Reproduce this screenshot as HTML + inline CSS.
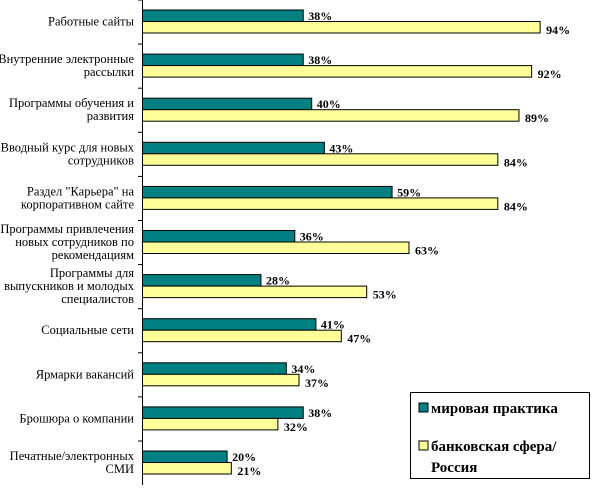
<!DOCTYPE html>
<html><head><meta charset="utf-8"><style>
body{margin:0;background:#fff;}
svg text{font-family:"Liberation Serif","DejaVu Serif",serif;}
</style></head><body>
<div id="w"></div>
<script>
var d=[["Работные сайты",38,94],["Внутренние электронные|рассылки",38,92],["Программы обучения и|развития",40,89],["Вводный курс для новых|сотрудников",43,84],["Раздел &quot;Карьера&quot; на|корпоративном сайте",59,84],["Программы привлечения|новых сотрудников по|рекомендациям",36,63],["Программы для|выпускников и молодых|специалистов",28,53],["Социальные сети",41,47],["Ярмарки вакансий",34,37],["Брошюра о компании",38,32],["Печатные/электронных|СМИ",20,21]];
var s='<svg width="600" height="485" xmlns="http://www.w3.org/2000/svg">',k=4.23,x0=142.5;
d.forEach(function(r,i){var t=10+i*44.1;
s+='<rect x="'+x0+'" y="'+t+'" width="'+(r[1]*k)+'" height="11.5" fill="#008080" stroke="#000"/>';
s+='<rect x="'+x0+'" y="'+(t+11.5)+'" width="'+(r[2]*k)+'" height="11.5" fill="#ffff99" stroke="#000"/>';
s+='<text x="'+(x0+r[1]*k+5)+'" y="'+(t+10)+'" font-size="12" font-weight="bold">'+r[1]+'%</text>';
s+='<text x="'+(x0+r[2]*k+6)+'" y="'+(t+24)+'" font-size="12" font-weight="bold">'+r[2]+'%</text>';
s+='<line x1="138" y1="'+(t-10)+'" x2="142" y2="'+(t-10)+'" stroke="#000"/>';
var L=r[0].split("|"),c=t+11.5,st=c-(L.length-1)*6.5+4;
L.forEach(function(l,j){s+='<text x="134" y="'+(st+j*13)+'" font-size="12.5" text-anchor="end">'+l+'</text>';});
});
s+='<line x1="142.5" y1="0" x2="142.5" y2="485" stroke="#000"/>';
s+='<rect x="410.5" y="392.5" width="179" height="86" fill="#fff" stroke="#000"/>';
s+='<rect x="419" y="403" width="9" height="9" fill="#008080" stroke="#000"/>';
s+='<text x="431" y="413" font-size="15" font-weight="bold">мировая практика</text>';
s+='<rect x="419" y="441" width="9" height="9" fill="#ffff99" stroke="#000"/>';
s+='<text x="431" y="451" font-size="15" font-weight="bold">банковская сфера/</text>';
s+='<text x="431" y="472" font-size="15" font-weight="bold">Россия</text></svg>';
document.getElementById("w").innerHTML=s;
</script>
</body></html>
